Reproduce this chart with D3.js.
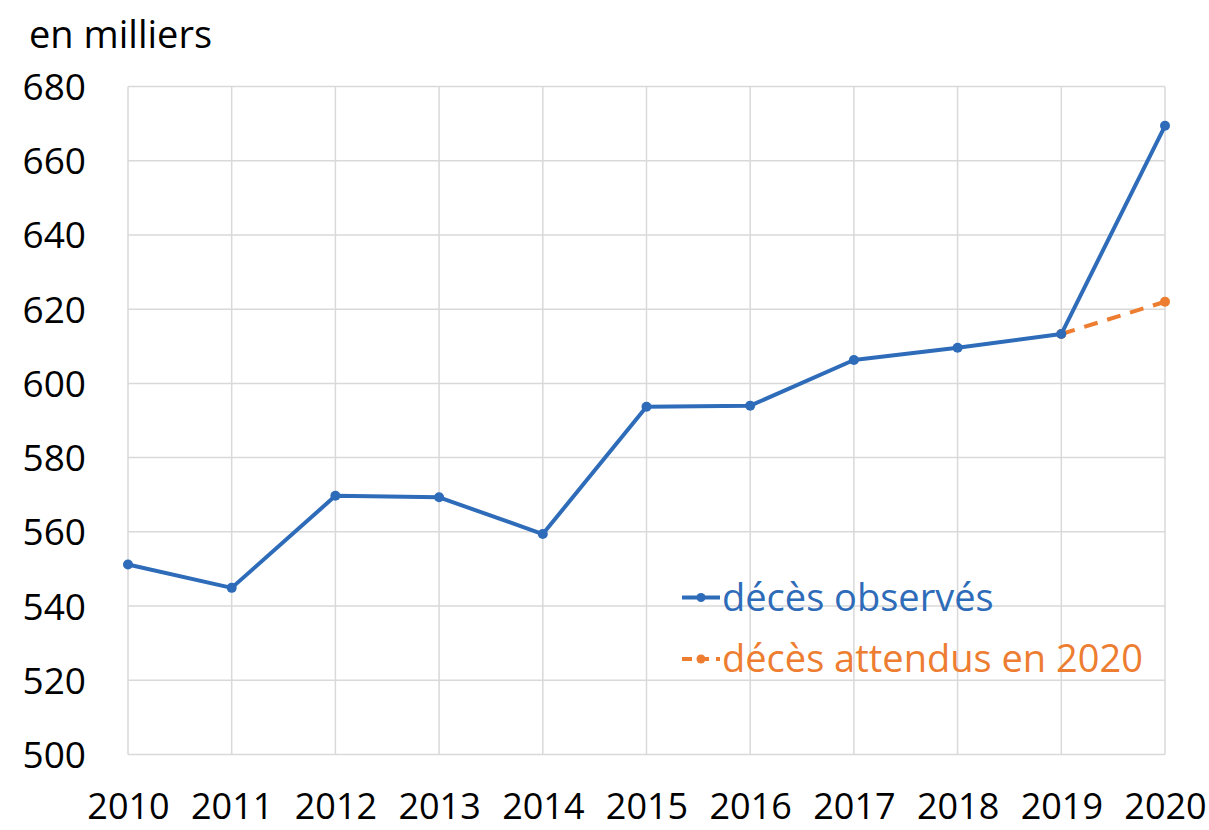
<!DOCTYPE html>
<html><head><meta charset="utf-8">
<script src="https://cdn.jsdelivr.net/npm/d3@7"></script>
<style>body{margin:0;background:#fff}svg{display:block}text{font-family:"Open Sans",sans-serif}</style>
</head><body><svg id="c" width="1209" height="830"></svg>
<script>
const years = [2010,2011,2012,2013,2014,2015,2016,2017,2018,2019,2020];
const observed = [551.2,544.9,569.7,569.3,559.4,593.7,594.0,606.3,609.6,613.3,669.4];
const expectedYears = [2019,2020];
const expected = [613.3,622.0];
const yTicks = [500,520,540,560,580,600,620,640,660,680];
const seriesNames = ["décès observés","décès attendus en 2020"];
const unitLabel = "en milliers";

const blue = "#2e6cb9", orange = "#ed7d31";
const svg = d3.select("#c");
const x = d3.scaleLinear().domain([2010,2020]).range([128,1165]);
const y = d3.scaleLinear().domain([500,680]).range([754.5,86.5]);

// gridlines
svg.append("g").selectAll("line").data(yTicks).join("line")
  .attr("x1",128).attr("x2",1165).attr("y1",d=>y(d)).attr("y2",d=>y(d))
  .attr("stroke","#d9d9d9").attr("stroke-width",1.5);
svg.append("g").selectAll("line").data(years).join("line")
  .attr("x1",d=>x(d)).attr("x2",d=>x(d)).attr("y1",y(680)).attr("y2",y(500))
  .attr("stroke","#d9d9d9").attr("stroke-width",1.5);

// axes
const yAxis = svg.append("g").attr("transform","translate(86,0)")
  .call(d3.axisLeft(y).tickValues(yTicks).tickSize(0).tickPadding(0));
yAxis.select(".domain").remove();
yAxis.selectAll("text").attr("font-size",37).attr("font-family","'Open Sans',sans-serif").attr("fill","#000").attr("dy","0.35em");

const xAxis = svg.append("g").attr("transform","translate(0,819)")
  .call(d3.axisBottom(x).tickValues(years).tickFormat(d3.format("d")).tickSize(0).tickPadding(0));
xAxis.select(".domain").remove();
xAxis.selectAll("text").attr("font-size",36).attr("font-family","'Open Sans',sans-serif").attr("fill","#000").attr("dy","0");

svg.append("text").attr("x",29).attr("y",48).attr("font-size",38).text(unitLabel);

// expected series
const line = d3.line().x(d=>d[0]).y(d=>d[1]);
const expPts = expectedYears.map((yr,i)=>[x(yr),y(expected[i])]);
svg.append("path").attr("d",line(expPts)).attr("fill","none").attr("stroke",orange)
  .attr("stroke-width",4).attr("stroke-dasharray","14,10");
svg.append("g").selectAll("circle").data(expPts).join("circle")
  .attr("cx",d=>d[0]).attr("cy",d=>d[1]).attr("r",5).attr("fill",orange);

// observed series
const obsPts = years.map((yr,i)=>[x(yr),y(observed[i])]);
svg.append("path").attr("d",line(obsPts)).attr("fill","none").attr("stroke",blue)
  .attr("stroke-width",4).attr("stroke-linejoin","round");
svg.append("g").selectAll("circle").data(obsPts).join("circle")
  .attr("cx",d=>d[0]).attr("cy",d=>d[1]).attr("r",5).attr("fill",blue);

// legend
const leg = [{name:seriesNames[0],c:blue,dash:null,cy:597.5},{name:seriesNames[1],c:orange,dash:"10,7",cy:659}];
leg.forEach(l=>{
  svg.append("line").attr("x1",682).attr("x2",720).attr("y1",l.cy).attr("y2",l.cy)
    .attr("stroke",l.c).attr("stroke-width",4).attr("stroke-dasharray",l.dash);
  svg.append("circle").attr("cx",701).attr("cy",l.cy).attr("r",4.5).attr("fill",l.c);
  svg.append("text").attr("x",722).attr("y",l.cy).attr("dy","0.35em").attr("font-size",38)
    .attr("fill",l.c).text(l.name);
});
</script></body></html>
